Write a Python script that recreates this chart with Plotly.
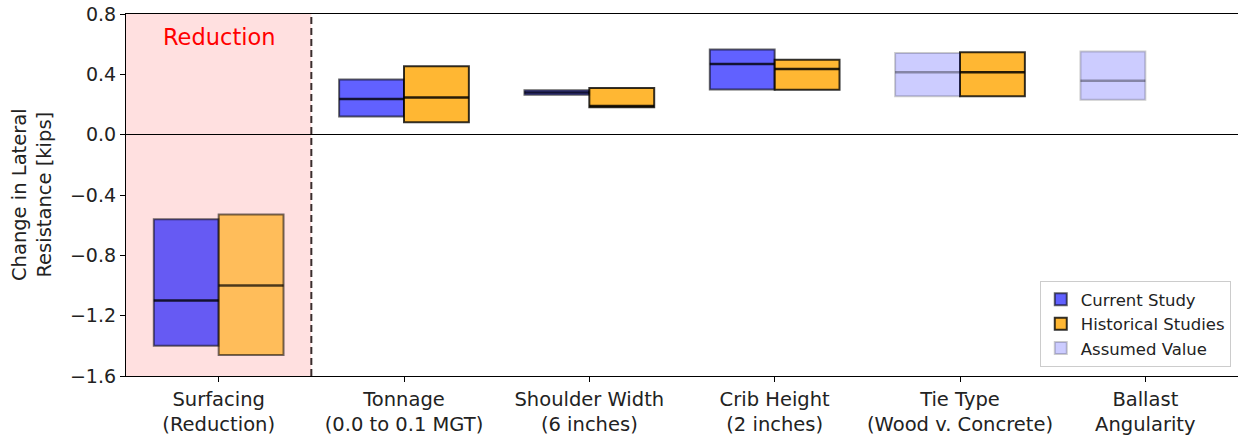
import plotly.graph_objects as go

# ---------------- data ----------------
categories = ["Surfacing<br>(Reduction)", "Tonnage<br>(0.0 to 0.1 MGT)",
              "Shoulder Width<br>(6 inches)", "Crib Height<br>(2 inches)",
              "Tie Type<br>(Wood v. Concrete)", "Ballast<br>Angularity"]

current_idx = [0, 1, 2, 3]
current_q1 = [-1.40, 0.120, 0.265, 0.300]
current_med = [-1.10, 0.237, 0.280, 0.468]
current_q3 = [-0.56, 0.365, 0.295, 0.565]

assumed_idx = [4, 5]
assumed_q1 = [0.255, 0.232]
assumed_med = [0.413, 0.358]
assumed_q3 = [0.542, 0.552]

hist_idx = [0, 1, 2, 3, 4]
hist_q1 = [-1.46, 0.082, 0.182, 0.298, 0.254]
hist_med = [-1.00, 0.247, 0.190, 0.436, 0.413]
hist_q3 = [-0.53, 0.453, 0.310, 0.497, 0.546]

y_ticks = [0.8, 0.4, 0.0, -0.4, -0.8, -1.2, -1.6]

BW = 0.35
FONT = "DejaVu Sans"

fig = go.Figure()


def add_boxes(idx, q1, med, q3, offset, fill, edge, medcol, name, showlegend, lw=2):
    fig.add_trace(go.Bar(
        x=idx, base=q1, y=[b - a for a, b in zip(q1, q3)],
        offset=offset, width=BW, name=name, showlegend=showlegend,
        marker=dict(color=fill, line=dict(color=edge, width=lw)),
        hoverinfo="skip"))
    xs, ys = [], []
    for i, m in zip(idx, med):
        xs += [i + offset, i + offset + BW, None]
        ys += [m, m, None]
    fig.add_trace(go.Scatter(x=xs, y=ys, mode="lines", showlegend=False,
                             line=dict(color=medcol, width=2.5), hoverinfo="skip"))


# Surfacing (in reduction zone) drawn slightly more transparent
add_boxes(current_idx[:1], current_q1[:1], current_med[:1], current_q3[:1], -BW,
          "rgba(0,0,255,0.60)", "rgba(0,0,0,0.55)", "rgba(0,0,0,0.8)", "cs0", False)
add_boxes(hist_idx[:1], hist_q1[:1], hist_med[:1], hist_q3[:1], 0,
          "rgba(255,165,0,0.60)", "rgba(0,0,0,0.55)", "rgba(0,0,0,0.7)", "hs0", False)

add_boxes(current_idx[1:], current_q1[1:], current_med[1:], current_q3[1:], -BW,
          "rgba(0,0,255,0.62)", "rgba(0,0,0,0.6)", "rgba(0,0,0,0.8)", "Current Study", True)
add_boxes(hist_idx[1:], hist_q1[1:], hist_med[1:], hist_q3[1:], 0,
          "rgba(255,165,0,0.8)", "rgba(0,0,0,0.8)", "rgba(0,0,0,0.85)", "Historical Studies", True)
add_boxes(assumed_idx, assumed_q1, assumed_med, assumed_q3, -BW,
          "rgba(0,0,255,0.2)", "rgba(0,0,0,0.2)", "rgba(0,0,0,0.35)", "Assumed Value", True)

# reduction zone
fig.add_shape(type="rect", xref="x", yref="paper", x0=-0.5, x1=0.5, y0=0, y1=1,
              fillcolor="rgba(255,0,0,0.12)", line=dict(width=0), layer="below")
fig.add_shape(type="line", xref="x", yref="paper", x0=0.5, x1=0.5, y0=0, y1=1,
              line=dict(color="#3a2d2d", width=2, dash="7px,4px"))
fig.add_annotation(x=0, y=0.65, xref="x", yref="y", text="Reduction", showarrow=False,
                   font=dict(family=FONT, size=22.5, color="red"))

fig.add_annotation(x=-0.0845, y=0.5, xref="paper", yref="paper", textangle=-90,
                   xanchor="center", yanchor="middle",
                   text="Change in Lateral<br>Resistance [kips]", showarrow=False,
                   font=dict(family=FONT, size=19.5, color="#222"))

fig.update_layout(
    width=1238, height=438,
    margin=dict(l=126, r=0, t=14, b=62, autoexpand=False),
    plot_bgcolor="white", paper_bgcolor="white",
    barmode="overlay",
    font=dict(family=FONT, size=19.5, color="#222"),
    legend=dict(x=0.9935, y=0.025, xanchor="right", yanchor="bottom",
                bgcolor="white", bordercolor="#cccccc", borderwidth=1,
                font=dict(family=FONT, size=16.5, color="#222"),
                tracegroupgap=0),
    xaxis=dict(range=[-0.5, 5.5], tickmode="array", tickvals=list(range(len(categories))),
               ticktext=categories, showgrid=False, zeroline=False, automargin=False,
               showline=True, linecolor="black", linewidth=1.2, mirror=True,
               ticks="outside", ticklen=5, tickcolor="black", ticklabeloverflow="allow",
               tickfont=dict(family=FONT, size=19.5, color="#222")),
    yaxis=dict(range=[-1.6, 0.8], tickmode="array", tickvals=y_ticks, automargin=False,
               ticktext=[f"{v:.1f}".replace("-", "\u2212") for v in y_ticks],
               showgrid=False, zeroline=True, zerolinecolor="black", zerolinewidth=1.3,
               showline=True, linecolor="black", linewidth=1.2,
               ticks="outside", ticklen=5, tickcolor="black", ticklabeloverflow="allow",
               tickfont=dict(family=FONT, size=19, color="#222")),
)

fig.write_html("out.html", config={"displayModeBar": False},
               post_script="document.body.style.margin='0px';")
